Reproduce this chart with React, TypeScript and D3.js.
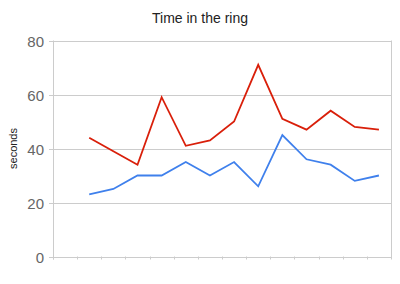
import React from "react";
import * as d3 from "d3";

const categories = ["", "1", "2", "3", "4", "5", "6", "7", "8", "9", "10", "11", "12", "13"];
const redSeries: (number | null)[] = [null, 44, 39, 34, 59, 41, 43, 50, 71, 51, 47, 54, 48, 47];
const blueSeries: (number | null)[] = [null, 23, 25, 30, 30, 35, 30, 35, 26, 45, 36, 34, 28, 30];
const yTicks = [0, 20, 40, 60, 80];
const title = "Time in the ring";
const yLabel = "seconds";

export default function App() {
  const W = 400, H = 284;
  const left = 53, right = 391, top = 40.5, bottom = 256.5;
  const x = d3.scaleBand<string>().domain(categories).range([left, right]);
  const y = d3.scaleLinear().domain([0, 80]).range([bottom, top]);
  const line = d3
    .line<number | null>()
    .defined((d) => d != null)
    .x((_, i) => (x(categories[i]) as number) + x.bandwidth() / 2)
    .y((d) => y(d as number));
  const font = "Arial, 'Liberation Sans', sans-serif";
  return (
    <svg width={W} height={H} style={{ position: "absolute", left: 0, top: 0 }}>
      <rect width={W} height={H} fill="#fff" />
      <text x={200} y={22.5} textAnchor="middle" fontFamily={font} fontSize={14} fill="#222">
        {title}
      </text>
      {yTicks.map((t) => (
        <g key={t}>
          <line x1={left - 4} x2={right} y1={Math.round(y(t)) + 0.5} y2={Math.round(y(t)) + 0.5} stroke="#cccccc" strokeWidth={1} />
          <text x={44} y={y(t) + 6} textAnchor="end" fontFamily={font} fontSize={15} fill="#666">
            {t}
          </text>
        </g>
      ))}
      {categories.map((c, i) => {
        const xx = Math.round(x(c) as number) + 0.5;
        return <line key={i} x1={xx} x2={xx} y1={bottom} y2={bottom + 3} stroke="#cccccc" />;
      })}
      <line x1={Math.round(right) + 0.5} x2={Math.round(right) + 0.5} y1={top} y2={bottom + 3} stroke="#cccccc" />
      <line x1={left + 0.5} x2={left + 0.5} y1={top} y2={bottom + 3} stroke="#cccccc" />
      <text
        transform={`translate(17,${(top + bottom) / 2}) rotate(-90)`}
        textAnchor="middle"
        fontFamily={font}
        fontSize={11}
        fill="#222"
      >
        {yLabel}
      </text>
      <path d={line(redSeries) || ""} fill="none" stroke="#d91f0a" strokeWidth={1.8} strokeLinejoin="miter" />
      <path d={line(blueSeries) || ""} fill="none" stroke="#3f80ec" strokeWidth={1.8} strokeLinejoin="miter" />
    </svg>
  );
}
